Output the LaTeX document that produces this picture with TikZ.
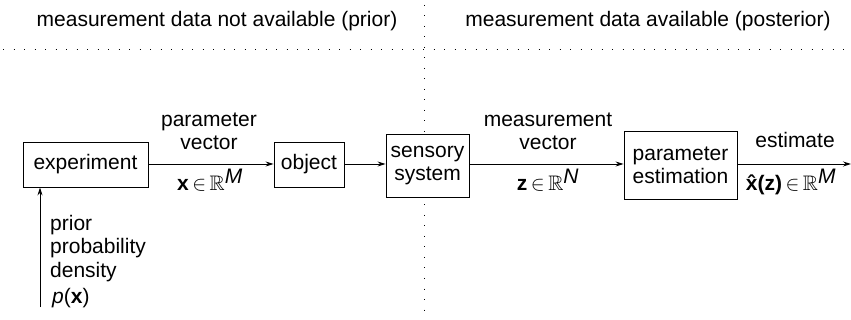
\documentclass[tikz,border=0pt]{standalone}
\usepackage{fontspec}
\usepackage{amssymb}
\setmainfont{Liberation Sans}
\usetikzlibrary{arrows.meta}
\begin{document}
\begin{tikzpicture}[x=1pt,y=-1pt,
  font=\fontsize{21}{23}\selectfont,
  blockbox/.style={draw,line width=0.9pt,fill=white,align=center,inner sep=0pt},
  flow/.style={line width=0.9pt,-{Stealth[length=8pt,width=5pt]}},
  sepline/.style={line width=1pt,dash pattern=on 1pt off 9.5pt},
  lbl/.style={anchor=base,inner sep=0pt}]
\useasboundingbox (0,0) rectangle (851,320);

% separating dotted lines
\coordinate (vtop) at (424,5);
\coordinate (vbot) at (424,318);
\coordinate (hleft) at (3,50);
\coordinate (hright) at (848,50);
\draw[sepline] (hleft) -- (hright);
\draw[sepline] (vtop) -- (vbot);

% section headings
\node[lbl] (hprior) at (217,27) {measurement data not available (prior)};
\node[lbl] (hpost) at (648,27) {measurement data available (posterior)};

% blocks
\node[blockbox,minimum width=125pt,minimum height=45pt] (exp) at (85.5,164.5) {experiment};
\node[blockbox,minimum width=70pt,minimum height=45pt] (obj) at (309,164.5) {object};
\node[blockbox,minimum width=83pt,minimum height=63pt] (sens) at (427.5,165.5) {sensory\\system};
\node[blockbox,minimum width=113pt,minimum height=68pt] (est) at (680.5,165) {parameter\\estimation};

% connectors
\coordinate (out) at (851,164);
\coordinate (src) at (40,307);
\draw[flow] (exp.east |- 0,164) -- (obj.west |- 0,164);
\draw[flow] (obj.east |- 0,164) -- (sens.west |- 0,164);
\draw[flow] (sens.east |- 0,164) -- (est.west |- 0,164);
\draw[flow] (est.east |- 0,164) -- (out);
\draw[flow] (src) -- (src |- exp.south);

% connector labels
\node[lbl] (pv1) at (209,127) {parameter};
\node[lbl] (pv2) at (209,150) {vector};
\node[lbl] (pvx) at (210,191) {\textbf{x}\,$\in$\,$\mathbb{R}^{\textit{M}}$};
\node[lbl] (mv1) at (548,127) {measurement};
\node[lbl] (mv2) at (548,150) {vector};
\node[lbl] (mvz) at (548,191) {\textbf{z}\,$\in$\,$\mathbb{R}^{\textit{N}}$};
\node[lbl] (es1) at (795,148) {estimate};
\node[lbl] (esx) at (791,191) {\textbf{\^x(z)}\,$\in$\,$\mathbb{R}^{\textit{M}}$};

% prior density label
\node[lbl,anchor=base west] (pr1) at (50,231) {prior};
\node[lbl,anchor=base west] (pr2) at (50,254) {probability};
\node[lbl,anchor=base west] (pr3) at (50,277) {density};
\node[lbl,anchor=base west] (pr4) at (52,304) {\textit{p}(\textbf{x})};
\end{tikzpicture}
\end{document}
